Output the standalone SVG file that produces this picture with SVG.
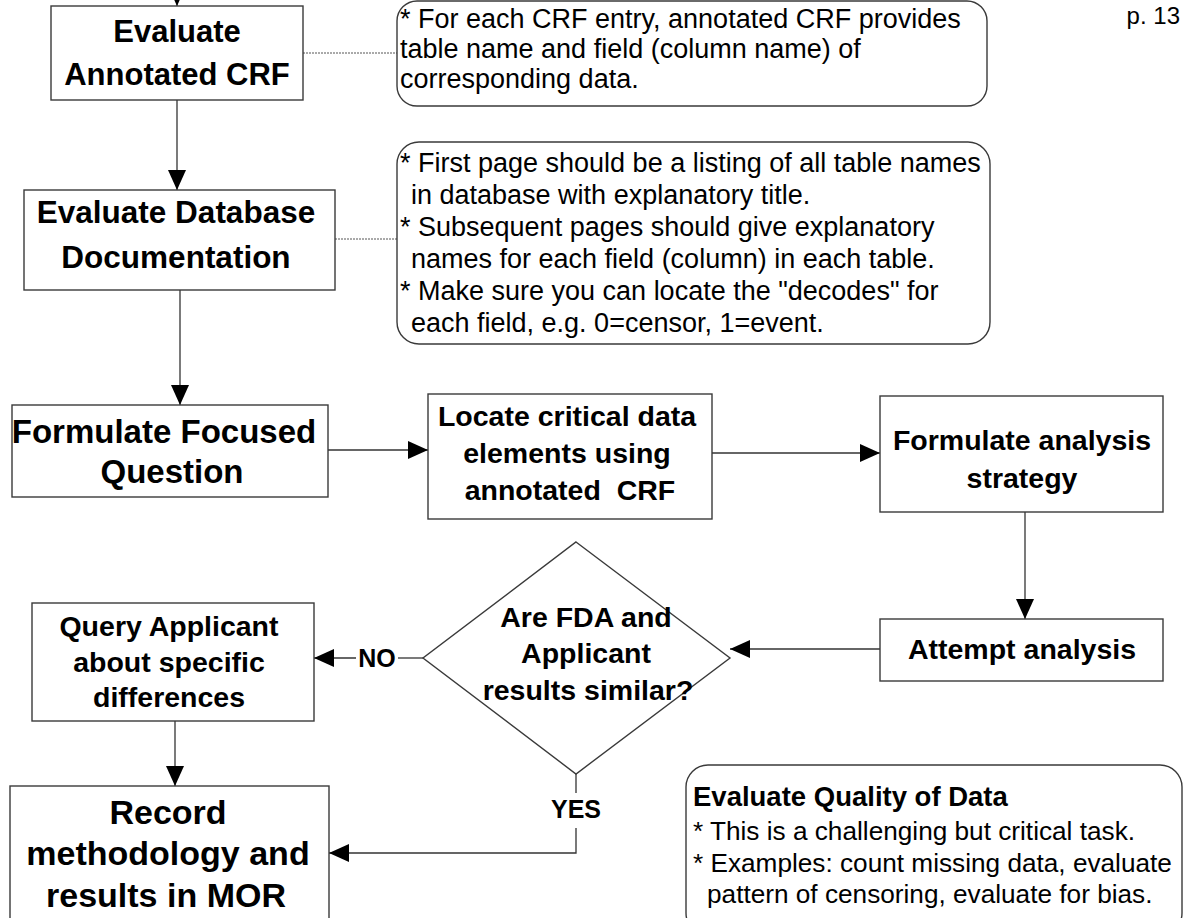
<svg xmlns="http://www.w3.org/2000/svg" width="1184" height="918" viewBox="0 0 1184 918">
  <defs>
    <marker id="arrow" markerUnits="userSpaceOnUse" markerWidth="20" markerHeight="18" refX="20" refY="9" orient="auto">
      <path d="M0,0 L20,9 L0,18 z" fill="#000"/>
    </marker>
    <style>
      .box { fill: #fff; stroke: #3a3a3a; stroke-width: 1.4; }
      .note { fill: #fff; stroke: #3a3a3a; stroke-width: 1.4; }
      .link { fill: none; stroke: #333; stroke-width: 1.3; }
      .dash { fill: none; stroke: #555; stroke-width: 1; stroke-dasharray: 2 1; }
      .t { font-family: "Liberation Sans", Arial, sans-serif; font-weight: bold; fill: #000; text-anchor: middle; }
      .n { font-family: "Liberation Sans", Arial, sans-serif; font-size: 27px; fill: #000; }
      .q { font-family: "Liberation Sans", Arial, sans-serif; font-size: 26.2px; fill: #000; }
      .nb { font-family: "Liberation Sans", Arial, sans-serif; font-size: 27.5px; font-weight: bold; fill: #000; }
    </style>
  </defs>
  <rect width="1184" height="918" fill="#fff"/>

  <!-- connectors -->
  <g id="connectors">
    <line class="link" x1="177" y1="-20" x2="177" y2="6" marker-end="url(#arrow)"/>
    <line class="link" x1="177" y1="100" x2="177" y2="190" marker-end="url(#arrow)"/>
    <line class="link" x1="180" y1="290" x2="180" y2="405" marker-end="url(#arrow)"/>
    <line class="link" x1="328" y1="450" x2="428" y2="450" marker-end="url(#arrow)"/>
    <line class="link" x1="712" y1="453" x2="880" y2="453" marker-end="url(#arrow)"/>
    <line class="link" x1="1025" y1="512" x2="1025" y2="619" marker-end="url(#arrow)"/>
    <line class="link" x1="880" y1="649" x2="730" y2="649" marker-end="url(#arrow)"/>
    <polyline class="link" points="423,658 398,658"/>
    <line class="link" x1="356" y1="658" x2="314" y2="658" marker-end="url(#arrow)"/>
    <line class="link" x1="175" y1="721" x2="175" y2="786" marker-end="url(#arrow)"/>
    <line class="link" x1="576" y1="774" x2="576" y2="793"/>
    <polyline class="link" points="576,828 576,853 329,853" marker-end="url(#arrow)"/>
    <line class="dash" x1="303" y1="53" x2="397" y2="53"/>
    <line class="dash" x1="335" y1="239" x2="397" y2="239"/>
    <text class="t" x="377" y="667" font-size="25">NO</text>
    <text class="t" x="576" y="818" font-size="25">YES</text>
  </g>

  <text x="1180" y="24" font-family="Liberation Sans, Arial, sans-serif" font-size="24" text-anchor="end">p. 13</text>

  <g id="evaluate-crf">
    <rect class="box" x="51" y="6" width="252" height="94"/>
    <text class="t" font-size="31" x="177" y="42">Evaluate</text>
    <text class="t" font-size="31" x="177" y="85">Annotated CRF</text>
  </g>

  <g id="note-crf">
    <rect class="note" x="397" y="1" width="590" height="105" rx="20"/>
    <text class="n" x="400" y="28">* For each CRF entry, annotated CRF provides</text>
    <text class="n" x="400" y="58">table name and field (column name) of</text>
    <text class="n" x="400" y="88">corresponding data.</text>
  </g>

  <g id="evaluate-db">
    <rect class="box" x="24" y="190" width="311" height="100"/>
    <text class="t" font-size="31.5" x="176" y="223">Evaluate Database</text>
    <text class="t" font-size="31.5" x="176" y="268">Documentation</text>
  </g>

  <g id="note-db">
    <rect class="note" x="397" y="142" width="593" height="202" rx="22"/>
    <text class="n" x="400" y="172">* First page should be a listing of all table names</text>
    <text class="n" x="411" y="204">in database with explanatory title.</text>
    <text class="n" x="400" y="236">* Subsequent pages should give explanatory</text>
    <text class="n" x="411" y="268">names for each field (column) in each table.</text>
    <text class="n" x="400" y="300">* Make sure you can locate the "decodes" for</text>
    <text class="n" x="411" y="332">each field, e.g. 0=censor, 1=event.</text>
  </g>

  <g id="focused-question">
    <rect class="box" x="12" y="405" width="316" height="92"/>
    <text class="t" font-size="33" x="164" y="443">Formulate Focused</text>
    <text class="t" font-size="33" x="172" y="483">Question</text>
  </g>

  <g id="locate-elements">
    <rect class="box" x="428" y="394" width="284" height="125"/>
    <text class="t" font-size="28.5" x="567" y="426">Locate critical data</text>
    <text class="t" font-size="28.5" x="567" y="463">elements using</text>
    <text class="t" font-size="28.5" x="570" y="500">annotated&#160; CRF</text>
  </g>

  <g id="analysis-strategy">
    <rect class="box" x="880" y="396" width="283" height="116"/>
    <text class="t" font-size="28.5" x="1022" y="450">Formulate analysis</text>
    <text class="t" font-size="28.5" x="1022" y="488">strategy</text>
  </g>

  <g id="attempt-analysis">
    <rect class="box" x="880" y="619" width="283" height="62"/>
    <text class="t" font-size="28.5" x="1022" y="659">Attempt analysis</text>
  </g>

  <g id="results-similar">
    <polygon class="box" points="576,542 730,658 576,774 423,658" stroke-width="1"/>
    <text class="t" font-size="28.5" x="586" y="627">Are FDA and</text>
    <text class="t" font-size="28.5" x="586" y="663">Applicant</text>
    <text class="t" font-size="28.5" x="588" y="700">results similar?</text>
  </g>

  <g id="query-applicant">
    <rect class="box" x="32" y="603" width="282" height="118"/>
    <text class="t" font-size="28.5" x="169" y="636">Query Applicant</text>
    <text class="t" font-size="28.5" x="169" y="672">about specific</text>
    <text class="t" font-size="28.5" x="169" y="707">differences</text>
  </g>

  <g id="record-results">
    <rect class="box" x="10" y="786" width="319" height="150"/>
    <text class="t" font-size="34" x="168" y="824">Record</text>
    <text class="t" font-size="34" x="168" y="865">methodology and</text>
    <text class="t" font-size="34" x="166" y="907">results in MOR</text>
  </g>

  <g id="note-quality">
    <rect class="note" x="686" y="765" width="496" height="170" rx="22"/>
    <text class="nb" x="693" y="806">Evaluate Quality of Data</text>
    <text class="q" x="693" y="840">* This is a challenging but critical task.</text>
    <text class="q" x="693" y="872">* Examples: count missing data, evaluate</text>
    <text class="q" x="707" y="903">pattern of censoring, evaluate for bias.</text>
  </g>
</svg>
